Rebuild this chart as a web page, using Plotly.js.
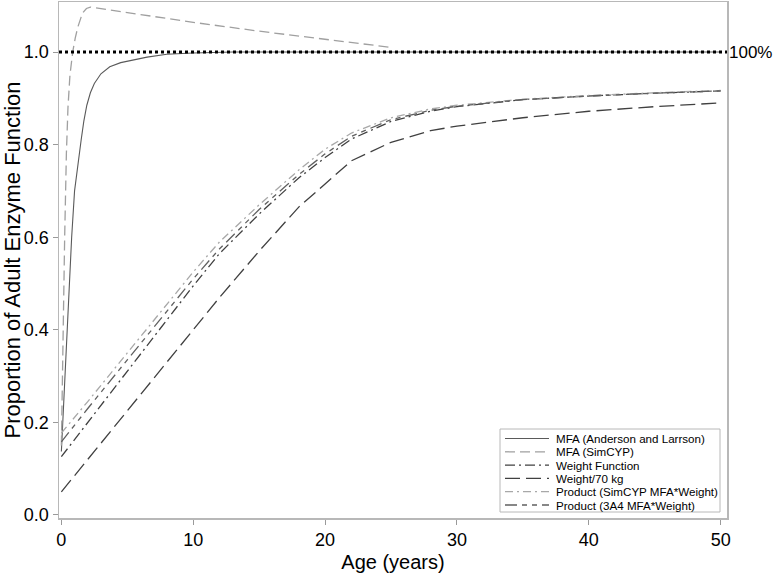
<!DOCTYPE html>
<html>
<head>
<meta charset="utf-8">
<script src="https://cdn.plot.ly/plotly-3.0.1.min.js"></script>
<style>html,body{margin:0;padding:0;background:#fff;}#chart{width:774px;height:577px;}</style>
</head>
<body>
<div id="chart"></div>
<script>
// ---- Data ----
const seriesNames = [
  "MFA (Anderson and Larrson)",
  "MFA (SimCYP)",
  "Weight Function",
  "Weight/70 kg",
  "Product (SimCYP MFA*Weight)",
  "Product (3A4 MFA*Weight)"
];

const ageMfaAL = [0, 0.1, 0.25, 0.4, 0.58, 0.78, 1.0, 1.25, 1.5, 1.7, 1.93, 2.2, 2.5, 3.0, 3.67, 4.5, 5.4, 6.5, 8, 10, 13, 20, 30, 40, 50];
const mfaAL    = [0.137, 0.2, 0.3, 0.39, 0.486, 0.6, 0.7, 0.76, 0.81, 0.85, 0.885, 0.912, 0.932, 0.953, 0.968, 0.977, 0.983, 0.989, 0.995, 0.998, 1.0, 1.0, 1.0, 1.0, 1.0];

const ageMfaSC = [0, 0.08, 0.17, 0.25, 0.38, 0.5, 0.65, 0.86, 1.05, 1.25, 1.6, 1.9, 2.2, 5, 10, 15, 20, 25];
const mfaSC    = [0.15, 0.33, 0.49, 0.6, 0.78, 0.88, 0.95, 1.0, 1.03, 1.054, 1.084, 1.094, 1.097, 1.085, 1.064, 1.045, 1.027, 1.01];

const ageWeight = [0, 2, 5, 8, 10, 12, 15, 18, 20, 22, 25, 28, 30, 35, 40, 45, 50];
const weightFunction = [0.126, 0.2, 0.31, 0.42, 0.495, 0.565, 0.65, 0.728, 0.772, 0.812, 0.85, 0.872, 0.882, 0.897, 0.905, 0.911, 0.916];
const weightOver70   = [0.05, 0.12, 0.225, 0.33, 0.40, 0.47, 0.57, 0.665, 0.715, 0.765, 0.805, 0.83, 0.84, 0.858, 0.872, 0.882, 0.89];
const productSimcyp  = [0.177, 0.245, 0.35, 0.455, 0.525, 0.59, 0.67, 0.745, 0.79, 0.825, 0.858, 0.877, 0.885, 0.898, 0.906, 0.912, 0.917];
const product3A4     = [0.158, 0.23, 0.335, 0.44, 0.51, 0.575, 0.66, 0.735, 0.78, 0.818, 0.854, 0.874, 0.883, 0.897, 0.905, 0.911, 0.916];

const adultLevel = 1.0;
const adultLabel = "100%";
const yTickVals = [0, 0.2, 0.4, 0.6, 0.8, 1.0];
const xTickVals = [0, 10, 20, 30, 40, 50];

// ---- Styles ----
const FONT = "Liberation Sans, Arial, sans-serif";
const styles = [
  {color: "#5a5a5a", dash: "solid", width: 1.1},
  {color: "#a0a0a0", dash: "10px,5px", width: 1.3},
  {color: "#404040", dash: "10px,4px,2px,4px", width: 1.3},
  {color: "#404040", dash: "15px,6px", width: 1.3},
  {color: "#a8a8a8", dash: "8px,4px,2px,4px", width: 1.3},
  {color: "#606060", dash: "12px,5px,5px,5px,5px,5px", width: 1.3}
];
const xs = [ageMfaAL, ageMfaSC, ageWeight, ageWeight, ageWeight, ageWeight];
const ys = [mfaAL, mfaSC, weightFunction, weightOver70, productSimcyp, product3A4];

const data = seriesNames.map((n, i) => ({
  x: xs[i], y: ys[i], name: n, type: "scatter", mode: "lines",
  line: {color: styles[i].color, dash: styles[i].dash, width: styles[i].width, shape: "linear"}
}));

// ---- Layout geometry ----
const W = 774, H = 577;
const M = {l: 59, r: 47, t: 2, b: 59};
const PW = W - M.l - M.r, PH = H - M.t - M.b;
const px2x = px => (px - M.l) / PW;
const px2y = py => (H - M.b - py) / PH;

// Legend drawn as a boxed key in the lower right (paper coordinates)
const legendBox = {left: 500, right: 720, top: 429, bottom: 512};
const legendRow0 = 438.5, legendRowStep = 13.3;
const shapes = [{
  type: "line", xref: "paper", yref: "y", x0: 0, x1: 1, y0: adultLevel, y1: adultLevel,
  line: {color: "#000", width: 3, dash: "dot"}, layer: "above"
}, {
  type: "rect", xref: "paper", yref: "paper",
  x0: px2x(legendBox.left), x1: px2x(legendBox.right),
  y0: px2y(legendBox.bottom), y1: px2y(legendBox.top),
  line: {color: "#b8b8b8", width: 1}, fillcolor: "#fff", layer: "above"
}];
const annotations = [{
  xref: "paper", yref: "y", x: 1, y: adultLevel, xanchor: "left", yanchor: "middle",
  xshift: 0, text: adultLabel, showarrow: false, font: {family: FONT, size: 17, color: "#000"}
}];
seriesNames.forEach((n, i) => {
  const ry = px2y(legendRow0 + i * legendRowStep);
  shapes.push({
    type: "line", xref: "paper", yref: "paper", x0: px2x(505), x1: px2x(549), y0: ry, y1: ry,
    line: {color: styles[i].color, dash: styles[i].dash, width: styles[i].width}, layer: "above"
  });
  annotations.push({
    xref: "paper", yref: "paper", x: px2x(554), y: ry, xanchor: "left", yanchor: "middle",
    text: n, showarrow: false, font: {family: FONT, size: 11.6, color: "#000"}
  });
});

const axisCommon = {
  showline: true, mirror: true, linecolor: "#b8b8b8", linewidth: 1.5,
  showgrid: false, zeroline: false,
  ticks: "outside", ticklen: 5, tickwidth: 1, tickcolor: "#9a9a9a"
};

const layout = {
  width: W, height: H,
  margin: M,
  paper_bgcolor: "#fff", plot_bgcolor: "#fff",
  font: {family: FONT, color: "#000"},
  showlegend: false,
  xaxis: Object.assign({}, axisCommon, {
    range: [-0.18, 50.48], tickvals: xTickVals,
    tickfont: {family: FONT, size: 18, color: "#000"},
    title: {text: "Age (years)", font: {family: FONT, size: 20, color: "#000"}, standoff: 6}
  }),
  yaxis: Object.assign({}, axisCommon, {
    range: [-0.0065, 1.108], tickvals: yTickVals, tickformat: ".1f",
    tickfont: {family: FONT, size: 18, color: "#000"},
    title: {text: "Proportion of Adult Enzyme Function", font: {family: FONT, size: 22, color: "#000"}, standoff: 2}
  }),
  shapes: shapes,
  annotations: annotations
};

Plotly.newPlot("chart", data, layout, {staticPlot: true, displayModeBar: false});
</script>
</body>
</html>
